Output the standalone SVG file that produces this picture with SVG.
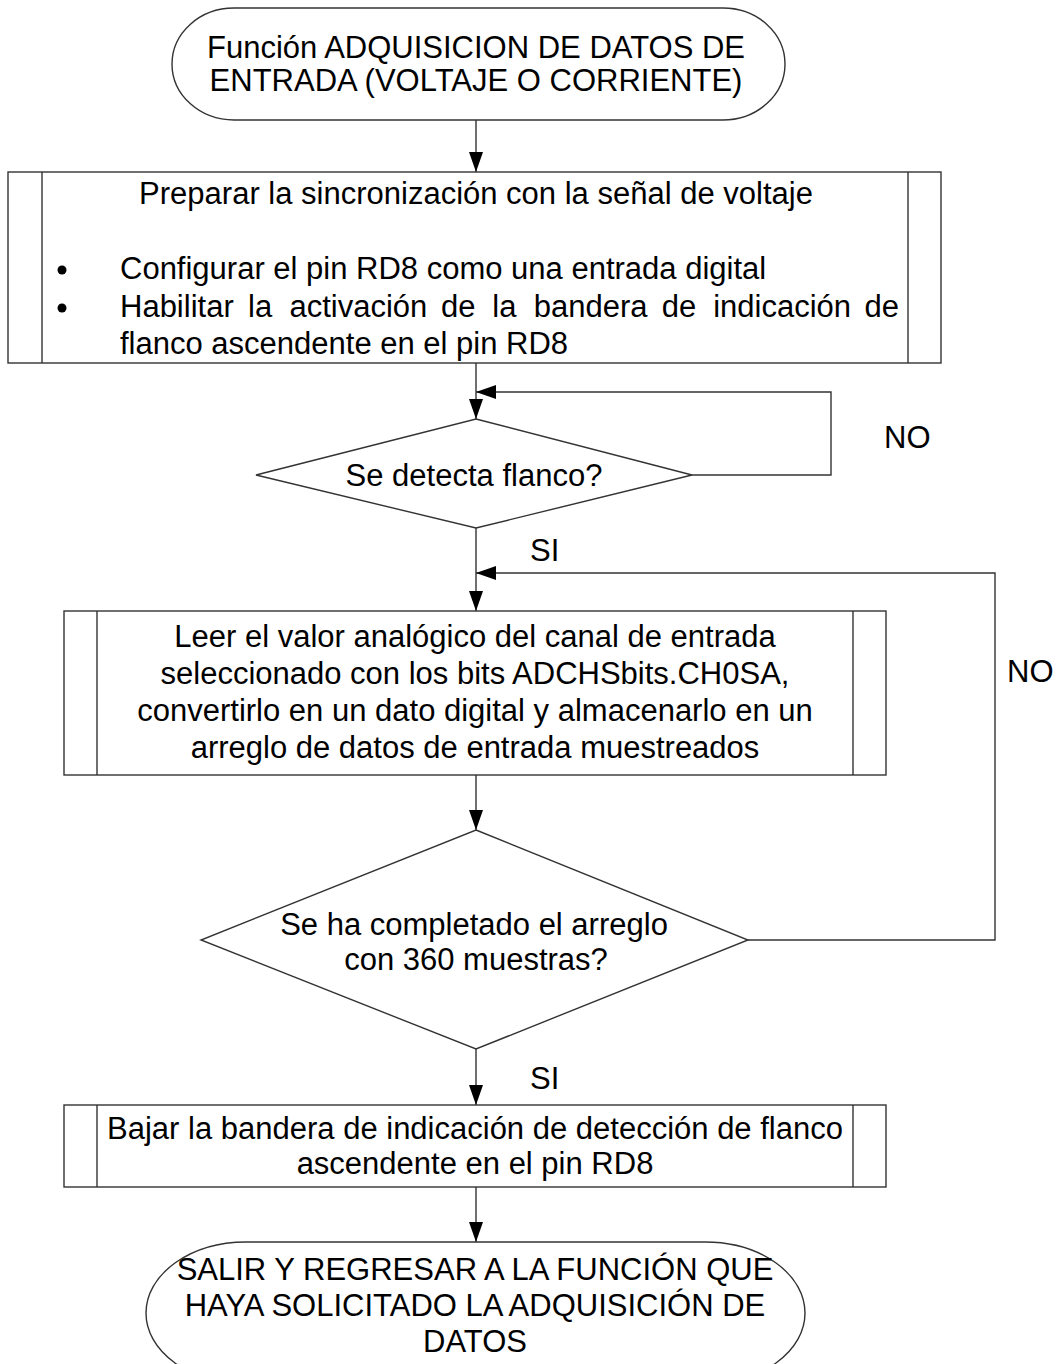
<svg xmlns="http://www.w3.org/2000/svg" width="1064" height="1364" viewBox="0 0 1064 1364">
  <style>
    .shape { fill: #ffffff; stroke: #333333; stroke-width: 1.4; }
    .edge { fill: none; stroke: #333333; stroke-width: 1.4; }
    .txt { font-family: "Liberation Sans", Arial, sans-serif; font-size: 31px; fill: #000000; }
    .mid { text-anchor: middle; }
  </style>
  <defs>
    <marker id="arrow" viewBox="0 0 20 14" markerWidth="20" markerHeight="14" refX="20" refY="7" orient="auto" markerUnits="userSpaceOnUse">
      <path d="M0,0 L20,7 L0,14 Z" fill="#000000"/>
    </marker>
  </defs>

  <rect width="1064" height="1364" fill="#ffffff"/>

  <!-- connectors -->
  <g id="connectors">
    <path class="edge" d="M476,120 V172" marker-end="url(#arrow)"/>
    <path class="edge" d="M476,363 V419" marker-end="url(#arrow)"/>
    <path class="edge" d="M692,475 H831 V392 H476" marker-end="url(#arrow)"/>
    <path class="edge" d="M476,528 V611" marker-end="url(#arrow)"/>
    <path class="edge" d="M748,940 H995 V573 H476" marker-end="url(#arrow)"/>
    <path class="edge" d="M476,775 V830" marker-end="url(#arrow)"/>
    <path class="edge" d="M476,1049 V1105" marker-end="url(#arrow)"/>
    <path class="edge" d="M476,1187 V1242" marker-end="url(#arrow)"/>
    <text class="txt" x="884" y="448">NO</text>
    <text class="txt" x="530" y="561">SI</text>
    <text class="txt" x="1007" y="682">NO</text>
    <text class="txt" x="530" y="1089">SI</text>
  </g>

  <!-- start terminal -->
  <g id="start">
    <rect class="shape" x="172" y="8" width="613" height="112" rx="62" ry="56"/>
    <text class="txt mid" x="476" y="58">Función ADQUISICION DE DATOS DE</text>
    <text class="txt mid" x="476" y="91">ENTRADA (VOLTAJE O CORRIENTE)</text>
  </g>

  <!-- predefined process: synchronisation setup -->
  <g id="sync-setup">
    <rect class="shape" x="8" y="172" width="933" height="191"/>
    <line class="edge" x1="42" y1="172" x2="42" y2="363"/>
    <line class="edge" x1="908" y1="172" x2="908" y2="363"/>
    <text class="txt mid" x="476" y="204">Preparar la sincronización con la señal de voltaje</text>
    <circle cx="62" cy="270" r="4.5" fill="#000000"/>
    <circle cx="62" cy="308" r="4.5" fill="#000000"/>
    <text class="txt" x="120" y="279">Configurar el pin RD8 como una entrada digital</text>
    <text class="txt" y="317"><tspan x="120">Habilitar</tspan><tspan x="248">la</tspan><tspan x="289.5">activación</tspan><tspan x="441">de</tspan><tspan x="492.3">la</tspan><tspan x="533.7">bandera</tspan><tspan x="661.8">de</tspan><tspan x="713.2">indicación</tspan><tspan x="864.6">de</tspan></text>
    <text class="txt" x="120" y="354">flanco ascendente en el pin RD8</text>
  </g>

  <!-- decision: edge detected -->
  <g id="edge-detected">
    <polygon class="shape" points="476,419 692,475 476,528 256,475"/>
    <text class="txt mid" x="474" y="486">Se detecta flanco?</text>
  </g>

  <!-- predefined process: read ADC -->
  <g id="read-adc">
    <rect class="shape" x="64" y="611" width="822" height="164"/>
    <line class="edge" x1="97" y1="611" x2="97" y2="775"/>
    <line class="edge" x1="853" y1="611" x2="853" y2="775"/>
    <text class="txt mid" x="475" y="647">Leer el valor analógico del canal de entrada</text>
    <text class="txt mid" x="475" y="684">seleccionado con los bits ADCHSbits.CH0SA,</text>
    <text class="txt mid" x="475" y="721">convertirlo en un dato digital y almacenarlo en un</text>
    <text class="txt mid" x="475" y="758">arreglo de datos de entrada muestreados</text>
  </g>

  <!-- decision: array complete -->
  <g id="array-complete">
    <polygon class="shape" points="476,830 748,940 476,1049 201,940"/>
    <text class="txt mid" x="474" y="935">Se ha completado el arreglo</text>
    <text class="txt mid" x="476" y="970">con 360 muestras?</text>
  </g>

  <!-- predefined process: clear flag -->
  <g id="clear-flag">
    <rect class="shape" x="64" y="1105" width="822" height="82"/>
    <line class="edge" x1="97" y1="1105" x2="97" y2="1187"/>
    <line class="edge" x1="853" y1="1105" x2="853" y2="1187"/>
    <text class="txt mid" x="475" y="1139">Bajar la bandera de indicación de detección de flanco</text>
    <text class="txt mid" x="475" y="1174">ascendente en el pin RD8</text>
  </g>

  <!-- end terminal -->
  <g id="end">
    <rect class="shape" x="146" y="1242" width="659" height="142" rx="100" ry="71"/>
    <text class="txt mid" x="475" y="1280">SALIR Y REGRESAR A LA FUNCIÓN QUE</text>
    <text class="txt mid" x="475" y="1316">HAYA SOLICITADO LA ADQUISICIÓN DE</text>
    <text class="txt mid" x="475" y="1352">DATOS</text>
  </g>
</svg>
